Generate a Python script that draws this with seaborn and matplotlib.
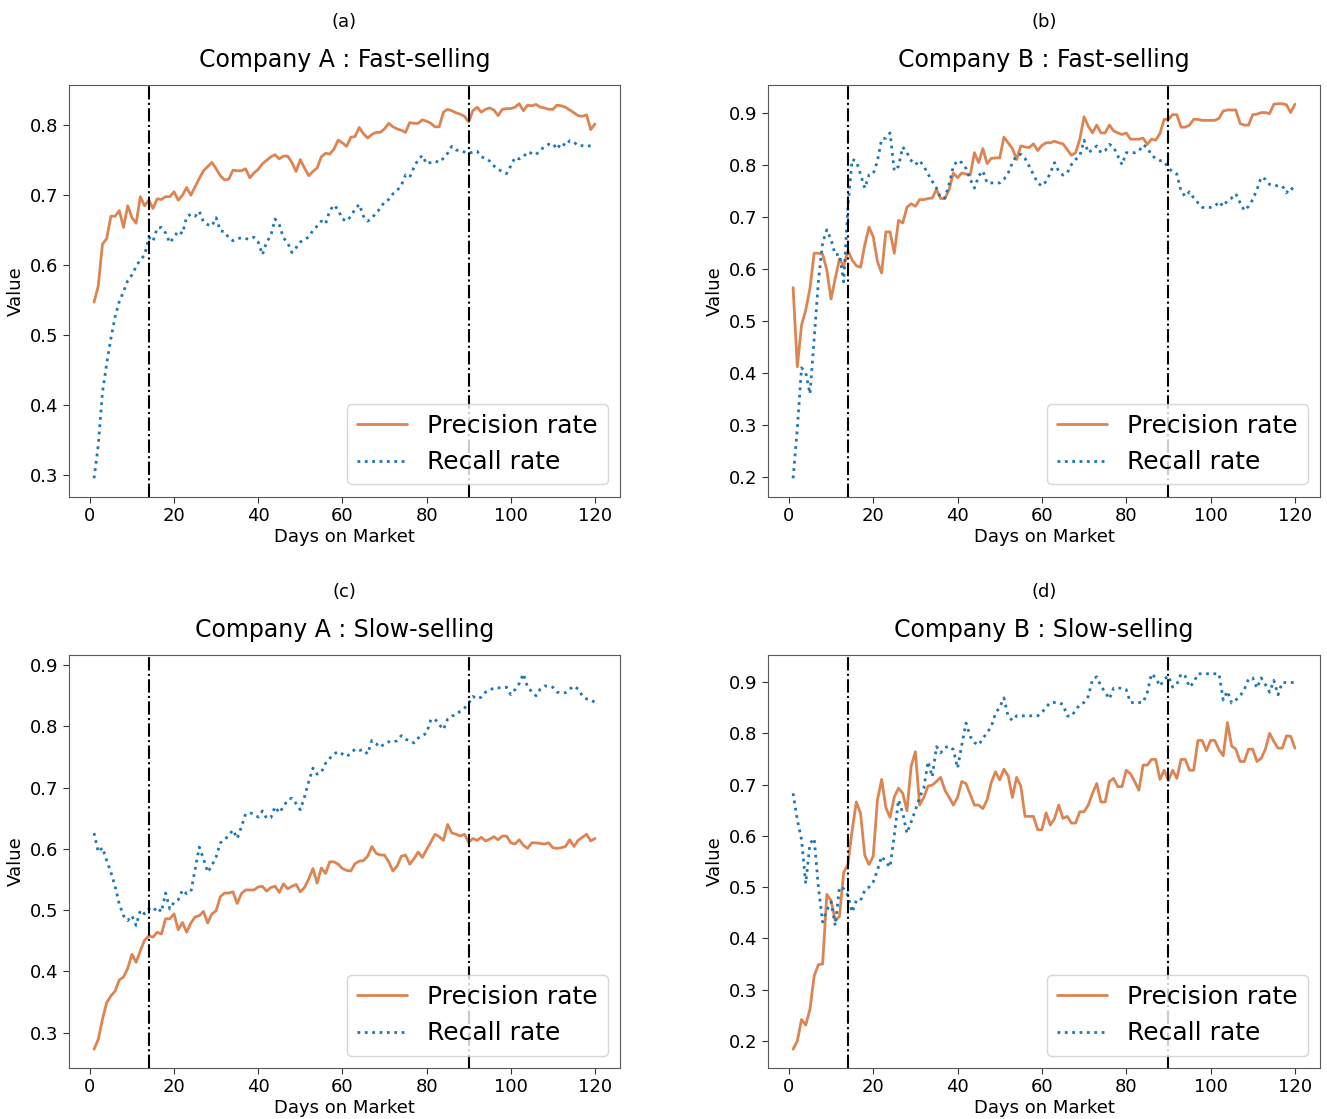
import matplotlib
matplotlib.use("Agg")
import matplotlib.pyplot as plt
import seaborn as sns
import pandas as pd

# ==========================================
# DATA
# ==========================================

days = list(range(1, 121))

prec_a = [
    0.547, 0.570, 0.630, 0.638, 0.670, 0.670, 0.678, 0.654, 0.685, 0.668,
    0.660, 0.698, 0.685, 0.693, 0.681, 0.695, 0.694, 0.698, 0.698, 0.705,
    0.693, 0.700, 0.711, 0.700, 0.712, 0.724, 0.735, 0.741, 0.747, 0.738,
    0.728, 0.722, 0.723, 0.736, 0.735, 0.735, 0.738, 0.725, 0.732, 0.737,
    0.745, 0.750, 0.755, 0.758, 0.752, 0.756, 0.756, 0.747, 0.734, 0.751,
    0.739, 0.728, 0.734, 0.739, 0.755, 0.760, 0.759, 0.766, 0.779, 0.775,
    0.770, 0.783, 0.784, 0.797, 0.788, 0.782, 0.787, 0.790, 0.790, 0.795,
    0.803, 0.798, 0.795, 0.793, 0.790, 0.804, 0.803, 0.803, 0.808, 0.806,
    0.803, 0.798, 0.798, 0.819, 0.823, 0.821, 0.818, 0.816, 0.813, 0.805,
    0.821, 0.826, 0.819, 0.823, 0.825, 0.822, 0.814, 0.823, 0.824, 0.824,
    0.826, 0.831, 0.821, 0.829, 0.828, 0.830, 0.826, 0.825, 0.823, 0.823,
    0.829, 0.828, 0.826, 0.822, 0.818, 0.814, 0.813, 0.815, 0.794, 0.802,
]
rec_a = [
    0.295, 0.342, 0.418, 0.459, 0.495, 0.526, 0.548, 0.562, 0.578, 0.586,
    0.598, 0.608, 0.614, 0.640, 0.634, 0.653, 0.654, 0.646, 0.632, 0.640,
    0.649, 0.645, 0.669, 0.673, 0.670, 0.677, 0.662, 0.658, 0.656, 0.668,
    0.649, 0.648, 0.639, 0.635, 0.638, 0.639, 0.638, 0.637, 0.640, 0.633,
    0.615, 0.633, 0.642, 0.666, 0.658, 0.639, 0.632, 0.618, 0.625, 0.633,
    0.637, 0.640, 0.650, 0.656, 0.663, 0.659, 0.678, 0.686, 0.679, 0.666,
    0.663, 0.670, 0.680, 0.687, 0.670, 0.663, 0.667, 0.675, 0.681, 0.691,
    0.694, 0.702, 0.707, 0.714, 0.729, 0.726, 0.740, 0.751, 0.757, 0.745,
    0.747, 0.749, 0.747, 0.753, 0.760, 0.770, 0.765, 0.763, 0.762, 0.760,
    0.762, 0.763, 0.755, 0.753, 0.749, 0.742, 0.737, 0.734, 0.731, 0.742,
    0.754, 0.752, 0.755, 0.762, 0.760, 0.758, 0.765, 0.769, 0.773, 0.774,
    0.766, 0.775, 0.771, 0.778, 0.776, 0.771, 0.771, 0.770, 0.771, 0.769,
]

prec_b = [
    0.564, 0.412, 0.492, 0.521, 0.563, 0.630, 0.630, 0.628, 0.598, 0.542,
    0.582, 0.619, 0.605, 0.635, 0.617, 0.606, 0.603, 0.646, 0.680, 0.662,
    0.614, 0.592, 0.671, 0.671, 0.630, 0.693, 0.688, 0.718, 0.725, 0.720,
    0.733, 0.733, 0.735, 0.736, 0.752, 0.735, 0.735, 0.752, 0.784, 0.775,
    0.784, 0.782, 0.780, 0.823, 0.804, 0.831, 0.802, 0.812, 0.813, 0.813,
    0.853, 0.842, 0.831, 0.810, 0.836, 0.834, 0.833, 0.840, 0.827, 0.837,
    0.842, 0.842, 0.845, 0.842, 0.840, 0.829, 0.818, 0.823, 0.849, 0.892,
    0.874, 0.861, 0.876, 0.861, 0.861, 0.876, 0.865, 0.861, 0.858, 0.861,
    0.849, 0.849, 0.849, 0.851, 0.839, 0.849, 0.847, 0.860, 0.887, 0.887,
    0.896, 0.896, 0.872, 0.872, 0.876, 0.887, 0.887, 0.885, 0.885, 0.885,
    0.885, 0.889, 0.903, 0.905, 0.905, 0.905, 0.879, 0.876, 0.876, 0.896,
    0.897, 0.900, 0.900, 0.898, 0.916, 0.917, 0.917, 0.915, 0.900, 0.916,
]
rec_b = [
    0.198, 0.293, 0.410, 0.401, 0.360, 0.466, 0.576, 0.650, 0.675, 0.656,
    0.627, 0.628, 0.575, 0.720, 0.810, 0.807, 0.781, 0.755, 0.780, 0.782,
    0.807, 0.849, 0.851, 0.861, 0.788, 0.797, 0.834, 0.823, 0.808, 0.800,
    0.808, 0.797, 0.782, 0.768, 0.755, 0.736, 0.736, 0.762, 0.797, 0.808,
    0.804, 0.793, 0.772, 0.755, 0.778, 0.788, 0.765, 0.765, 0.765, 0.765,
    0.772, 0.784, 0.804, 0.817, 0.820, 0.812, 0.797, 0.781, 0.765, 0.759,
    0.768, 0.784, 0.804, 0.787, 0.780, 0.784, 0.800, 0.810, 0.817, 0.847,
    0.823, 0.829, 0.836, 0.823, 0.827, 0.839, 0.834, 0.817, 0.800, 0.823,
    0.823, 0.823, 0.826, 0.838, 0.833, 0.818, 0.812, 0.808, 0.806, 0.794,
    0.786, 0.782, 0.749, 0.739, 0.748, 0.736, 0.727, 0.718, 0.718, 0.718,
    0.720, 0.729, 0.720, 0.731, 0.736, 0.744, 0.727, 0.712, 0.720, 0.733,
    0.752, 0.776, 0.772, 0.762, 0.761, 0.759, 0.759, 0.746, 0.756, 0.749,
]

prec_c = [
    0.273, 0.289, 0.322, 0.349, 0.360, 0.368, 0.386, 0.391, 0.405, 0.428,
    0.415, 0.434, 0.451, 0.458, 0.456, 0.464, 0.461, 0.486, 0.486, 0.494,
    0.468, 0.480, 0.464, 0.479, 0.489, 0.491, 0.498, 0.479, 0.494, 0.499,
    0.522, 0.528, 0.528, 0.530, 0.511, 0.527, 0.533, 0.533, 0.533, 0.538,
    0.539, 0.531, 0.537, 0.539, 0.529, 0.543, 0.535, 0.539, 0.542, 0.530,
    0.537, 0.551, 0.568, 0.544, 0.569, 0.560, 0.579, 0.579, 0.575, 0.568,
    0.565, 0.564, 0.576, 0.580, 0.581, 0.588, 0.604, 0.593, 0.590, 0.590,
    0.579, 0.564, 0.572, 0.588, 0.590, 0.575, 0.584, 0.595, 0.586, 0.599,
    0.611, 0.624, 0.620, 0.614, 0.640, 0.626, 0.624, 0.621, 0.624, 0.611,
    0.617, 0.614, 0.619, 0.613, 0.616, 0.620, 0.615, 0.621, 0.621, 0.610,
    0.608, 0.615, 0.606, 0.601, 0.610, 0.610, 0.609, 0.608, 0.610, 0.602,
    0.601, 0.602, 0.604, 0.615, 0.604, 0.614, 0.619, 0.624, 0.613, 0.617,
]
rec_c = [
    0.626, 0.595, 0.602, 0.581, 0.562, 0.539, 0.510, 0.491, 0.483, 0.491,
    0.475, 0.500, 0.494, 0.502, 0.498, 0.505, 0.497, 0.528, 0.502, 0.513,
    0.517, 0.533, 0.527, 0.530, 0.566, 0.603, 0.584, 0.562, 0.573, 0.587,
    0.610, 0.615, 0.622, 0.631, 0.617, 0.636, 0.657, 0.659, 0.657, 0.652,
    0.662, 0.650, 0.651, 0.669, 0.659, 0.669, 0.680, 0.683, 0.674, 0.664,
    0.685, 0.710, 0.732, 0.722, 0.725, 0.740, 0.748, 0.755, 0.759, 0.755,
    0.751, 0.756, 0.763, 0.761, 0.762, 0.755, 0.777, 0.772, 0.766, 0.772,
    0.775, 0.774, 0.777, 0.785, 0.779, 0.777, 0.773, 0.781, 0.785, 0.789,
    0.811, 0.812, 0.803, 0.795, 0.812, 0.817, 0.819, 0.825, 0.830, 0.838,
    0.849, 0.845, 0.848, 0.856, 0.859, 0.863, 0.863, 0.863, 0.864, 0.852,
    0.860, 0.870, 0.886, 0.864, 0.857, 0.850, 0.861, 0.866, 0.866, 0.864,
    0.856, 0.855, 0.855, 0.861, 0.866, 0.861, 0.850, 0.845, 0.844, 0.839,
]

prec_d = [
    0.184, 0.200, 0.242, 0.231, 0.262, 0.327, 0.349, 0.350, 0.486, 0.474,
    0.435, 0.443, 0.529, 0.544, 0.611, 0.666, 0.644, 0.562, 0.544, 0.560,
    0.670, 0.710, 0.655, 0.636, 0.676, 0.693, 0.683, 0.649, 0.736, 0.764,
    0.660, 0.675, 0.697, 0.699, 0.706, 0.714, 0.689, 0.675, 0.660, 0.675,
    0.706, 0.702, 0.681, 0.660, 0.660, 0.653, 0.670, 0.704, 0.725, 0.709,
    0.730, 0.717, 0.675, 0.714, 0.697, 0.638, 0.638, 0.638, 0.612, 0.612,
    0.645, 0.621, 0.634, 0.660, 0.634, 0.638, 0.625, 0.625, 0.647, 0.647,
    0.660, 0.683, 0.702, 0.666, 0.666, 0.706, 0.712, 0.696, 0.696, 0.728,
    0.721, 0.706, 0.689, 0.738, 0.738, 0.749, 0.749, 0.710, 0.728, 0.708,
    0.728, 0.712, 0.749, 0.749, 0.728, 0.728, 0.786, 0.786, 0.766, 0.786,
    0.786, 0.768, 0.756, 0.821, 0.775, 0.769, 0.745, 0.745, 0.769, 0.769,
    0.745, 0.751, 0.769, 0.800, 0.784, 0.771, 0.771, 0.795, 0.794, 0.771,
]
rec_d = [
    0.683, 0.631, 0.593, 0.507, 0.585, 0.595, 0.500, 0.432, 0.455, 0.471,
    0.425, 0.500, 0.497, 0.484, 0.451, 0.474, 0.474, 0.494, 0.500, 0.510,
    0.533, 0.560, 0.549, 0.539, 0.601, 0.670, 0.645, 0.605, 0.627, 0.650,
    0.675, 0.693, 0.745, 0.715, 0.774, 0.762, 0.772, 0.775, 0.768, 0.732,
    0.777, 0.820, 0.794, 0.782, 0.777, 0.790, 0.801, 0.813, 0.839, 0.851,
    0.869, 0.833, 0.825, 0.834, 0.834, 0.834, 0.834, 0.834, 0.834, 0.840,
    0.851, 0.860, 0.860, 0.860, 0.856, 0.834, 0.833, 0.845, 0.856, 0.860,
    0.872, 0.905, 0.910, 0.892, 0.880, 0.867, 0.888, 0.888, 0.888, 0.885,
    0.860, 0.860, 0.860, 0.860, 0.880, 0.916, 0.908, 0.892, 0.905, 0.912,
    0.890, 0.895, 0.916, 0.911, 0.890, 0.899, 0.916, 0.916, 0.916, 0.916,
    0.916, 0.916, 0.865, 0.882, 0.859, 0.865, 0.873, 0.885, 0.906, 0.908,
    0.888, 0.908, 0.895, 0.880, 0.903, 0.875, 0.899, 0.899, 0.899, 0.899,
]

panel_tags = ["(a)", "(b)", "(c)", "(d)"]
panel_titles = [
    "Company A : Fast-selling",
    "Company B : Fast-selling",
    "Company A : Slow-selling",
    "Company B : Slow-selling",
]
precision = [prec_a, prec_b, prec_c, prec_d]
recall = [rec_a, rec_b, rec_c, rec_d]
cutoffs = [14, 90]

# ==========================================
# STYLE
# ==========================================

sns.set_style("ticks")
plt.rcParams["font.family"] = ["DejaVu Sans"]
plt.rcParams["text.color"] = "black"
plt.rcParams["axes.labelcolor"] = "black"
plt.rcParams["xtick.color"] = "black"
plt.rcParams["ytick.color"] = "black"

ORANGE = "#dd8452"
BLUE = "#1f77b4"

W, H = 1327, 1119
fig = plt.figure(figsize=(W / 100, H / 100), dpi=100)

# axes boxes in pixels: left, top, right, bottom
boxes = [
    (69, 85, 620, 497),
    (768, 85, 1320, 497),
    (69, 655, 620, 1068),
    (768, 655, 1320, 1068),
]

for i in range(4):
    l, t, r, b = boxes[i]
    ax = fig.add_axes([l / W, 1 - b / H, (r - l) / W, (b - t) / H])

    df = pd.DataFrame({
        "day": days,
        "precision": precision[i],
        "recall": recall[i],
    })

    sns.lineplot(
        data=df, x="day", y="precision", ax=ax,
        color=ORANGE, linewidth=2, label="Precision rate"
    )
    sns.lineplot(
        data=df, x="day", y="recall", ax=ax,
        color=BLUE, linewidth=2, linestyle=":", label="Recall rate"
    )

    for c in cutoffs:
        ax.axvline(c, color="black", linestyle="-.", linewidth=1.5)

    ax.set_xticks([0, 20, 40, 60, 80, 100, 120])
    ax.tick_params(labelsize=13, color="0.2", width=0.8, length=4)
    ax.set_xlabel("Days on Market", fontsize=13, labelpad=2)
    ax.set_ylabel("Value", fontsize=13, labelpad=4)

    for s in ax.spines.values():
        s.set_visible(True)
        s.set_color("0.35")
        s.set_linewidth(0.8)

    ax.set_title(panel_titles[i], fontsize=17, pad=13)
    ax.annotate(
        panel_tags[i], xy=(0.5, 1), xycoords="axes fraction",
        xytext=(0, 42), textcoords="offset points",
        ha="center", va="baseline", fontsize=13
    )

    ax.legend(loc="lower right", fontsize=18, handlelength=2.0)

fig.savefig("out.png", dpi=100)
